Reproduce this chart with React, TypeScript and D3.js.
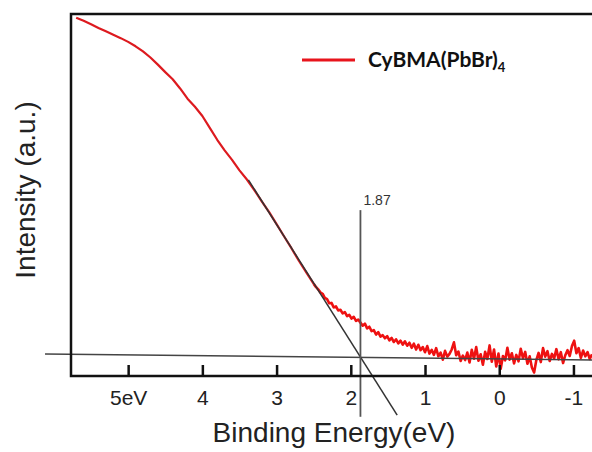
import React, { useEffect, useRef } from 'react'
import * as d3 from 'd3'

// smooth upper part of the spectrum, [binding energy (eV), intensity (a.u.)]
const shoulder: [number, number][] = [
  [5.7, 99.8], [5.6, 98.9], [5.5, 97.9], [5.4, 96.8], [5.3, 95.8], [5.2, 94.8],
  [5.1, 93.8], [5.0, 92.7], [4.9, 91.4], [4.8, 89.9], [4.7, 88.1], [4.6, 86.0],
  [4.5, 83.8], [4.4, 81.7], [4.3, 79.0], [4.2, 76.0], [4.1, 73.6], [4.0, 70.9],
  [3.9, 67.4], [3.8, 63.9], [3.7, 60.8], [3.6, 58.0], [3.5, 54.9], [3.4, 52.2],
  [3.3, 49.1], [3.2, 45.8], [3.1, 42.6], [3.0, 39.1], [2.9, 35.5], [2.8, 32.0],
  [2.7, 28.3], [2.6, 24.9], [2.5, 21.5]
]

// noisy tail near the valence band edge
const tail: [number, number][] = [
  [2.47, 20.6], [2.44, 19.9], [2.41, 19.0], [2.38, 18.6], [2.35, 17.4], [2.32, 17.0],
  [2.29, 15.8], [2.26, 15.9], [2.23, 14.6], [2.2, 14.9], [2.17, 13.7], [2.14, 13.9],
  [2.11, 12.8], [2.08, 13.2], [2.05, 12.0], [2.02, 12.4], [1.99, 11.3], [1.96, 11.8],
  [1.93, 10.6], [1.9, 11.0], [1.87, 10.1], [1.84, 9.2], [1.81, 9.8], [1.78, 8.4],
  [1.75, 8.9], [1.72, 7.6], [1.69, 7.9], [1.66, 6.6], [1.63, 7.3], [1.6, 6.0],
  [1.57, 6.4], [1.54, 5.5], [1.51, 6.1], [1.48, 4.9], [1.45, 5.6], [1.42, 4.4],
  [1.39, 5.2], [1.36, 4.0], [1.33, 4.8], [1.3, 3.6], [1.27, 4.6], [1.24, 3.3],
  [1.21, 4.2], [1.18, 2.7], [1.15, 3.9], [1.12, 2.2], [1.09, 3.6], [1.06, 2.0],
  [1.03, 2.9], [1.0, 1.4], [0.97, 3.2], [0.94, 1.0], [0.91, 2.1], [0.88, 0.6],
  [0.85, 2.6], [0.82, 0.2], [0.79, 1.3], [0.76, -0.8], [0.73, 1.8], [0.7, 0.1],
  [0.67, 0.9], [0.64, 2.2], [0.61, 4.3], [0.58, 0.5], [0.55, 1.6], [0.52, -1.2],
  [0.49, 0.4], [0.46, -0.9], [0.43, 1.3], [0.4, -1.6], [0.37, 2.1], [0.34, -0.5],
  [0.31, 2.9], [0.28, -1.1], [0.25, 0.8], [0.22, -2.3], [0.19, 1.5], [0.16, -0.6],
  [0.13, 3.4], [0.1, -1.4], [0.07, 2.2], [0.04, -2.8], [0.01, 1.0], [-0.02, -3.5],
  [-0.05, 0.3], [-0.08, -1.0], [-0.11, 2.7], [-0.14, -0.8], [-0.17, 1.1], [-0.2, -1.9],
  [-0.23, 0.6], [-0.26, -1.3], [-0.29, 2.4], [-0.32, -0.4], [-0.35, 1.5], [-0.38, -2.0],
  [-0.41, 0.2], [-0.44, -3.1], [-0.47, -4.6], [-0.5, -0.9], [-0.53, 1.2], [-0.56, -1.5],
  [-0.59, 2.6], [-0.62, 0.1], [-0.65, 1.7], [-0.68, -1.2], [-0.71, 0.9], [-0.74, -0.4],
  [-0.77, 2.3], [-0.8, -0.7], [-0.83, 1.4], [-0.86, -1.8], [-0.89, 0.5], [-0.92, 2.0],
  [-0.95, 0.3], [-0.98, 3.2], [-1.01, 4.8], [-1.04, 1.1], [-1.07, 2.6], [-1.1, -0.3],
  [-1.13, 1.9], [-1.16, 0.2], [-1.19, 1.4], [-1.22, -0.6], [-1.25, 0.8]
]

const xTicks = [5, 4, 3, 2, 1, 0, -1]

// linear fits drawn on top
const edgeFit: [number, number][] = [[3.38, 52.1], [1.375, -17.1]]
const backgroundFit: [number, number][] = [[6.12, 0.9], [-1.25, -0.9]]
const onsetEnergy = 1.87
const onsetSpan = [43.2, -17.6]

const W = 592
const H = 452

export default function App() {
  const axisRef = useRef<SVGGElement>(null)

  const x = d3.scaleLinear().domain([5.77, -1.25]).range([71, 592])
  const y = d3.scaleLinear().domain([-5.6, 100.9]).range([376, 14])

  useEffect(() => {
    const g = d3.select(axisRef.current)
    g.selectAll('*').remove()
    g.call(
      d3
        .axisBottom(x)
        .tickValues(xTicks)
        .tickSizeInner(-11)
        .tickSizeOuter(0)
        .tickPadding(14)
        .tickFormat((d) => (d === 5 ? '5eV' : String(d)))
    )
    g.select('.domain').remove()
    g.selectAll('.tick line').attr('stroke', '#111').attr('stroke-width', 2.5)
    g.selectAll('.tick text')
      .attr('fill', '#222')
      .style('font-family', '"Liberation Sans", Arial, sans-serif')
      .style('font-size', '21px')
  }, [])

  const line = d3
    .line<[number, number]>()
    .x((d) => x(d[0]))
    .y((d) => y(d[1]))

  return (
    <svg
      width={W}
      height={H}
      style={{ position: 'absolute', left: 0, top: 0, background: '#fff' }}
    >
      {/* spectrum */}
      <path d={line(shoulder) || ''} fill="none" stroke="#dd1a1f" strokeWidth={2.2} strokeLinejoin="round" />
      <path d={line([shoulder[shoulder.length - 1]].concat(tail)) || ''} fill="none" stroke="#ee1111" strokeWidth={2.6} strokeLinejoin="round" />

      {/* fits */}
      <path d={line(backgroundFit) || ''} fill="none" stroke="#444" strokeWidth={1.5} />
      <path d={line(edgeFit) || ''} fill="none" stroke="#333" strokeWidth={1.5} />
      <line
        x1={x(onsetEnergy)}
        x2={x(onsetEnergy)}
        y1={y(onsetSpan[0])}
        y2={y(onsetSpan[1])}
        stroke="#555"
        strokeWidth={1.8}
      />
      <text
        x={x(onsetEnergy) + 3}
        y={y(onsetSpan[0]) - 5}
        fontFamily='"Liberation Sans", Arial, sans-serif'
        fontSize={14}
        fill="#333"
      >
        {onsetEnergy.toFixed(2)}
      </text>

      {/* frame */}
      <path
        d={`M${W},${y.range()[1]}H${x.range()[0]}V${y.range()[0]}H${W}`}
        fill="none"
        stroke="#111"
        strokeWidth={2.5}
      />
      <g ref={axisRef} transform={`translate(0,${y.range()[0]})`} />

      {/* legend */}
      <line x1={302} x2={355} y1={60} y2={60} stroke="#e8141c" strokeWidth={3} />
      <text x={368} y={67} fontFamily="Lato, sans-serif" fontWeight={700} fontSize={21} fill="#111">
        CyBMA(PbBr)
        <tspan fontSize={13} dy={5}>4</tspan>
      </text>

      {/* axis titles */}
      <text
        x={334}
        y={442}
        textAnchor="middle"
        fontFamily='"Liberation Sans", Arial, sans-serif'
        fontSize={28}
        fill="#222"
      >
        Binding Energy(eV)
      </text>
      <text
        transform="translate(35,190) rotate(-90)"
        textAnchor="middle"
        fontFamily='"Liberation Sans", Arial, sans-serif'
        fontSize={28}
        fill="#222"
      >
        Intensity (a.u.)
      </text>
    </svg>
  )
}
